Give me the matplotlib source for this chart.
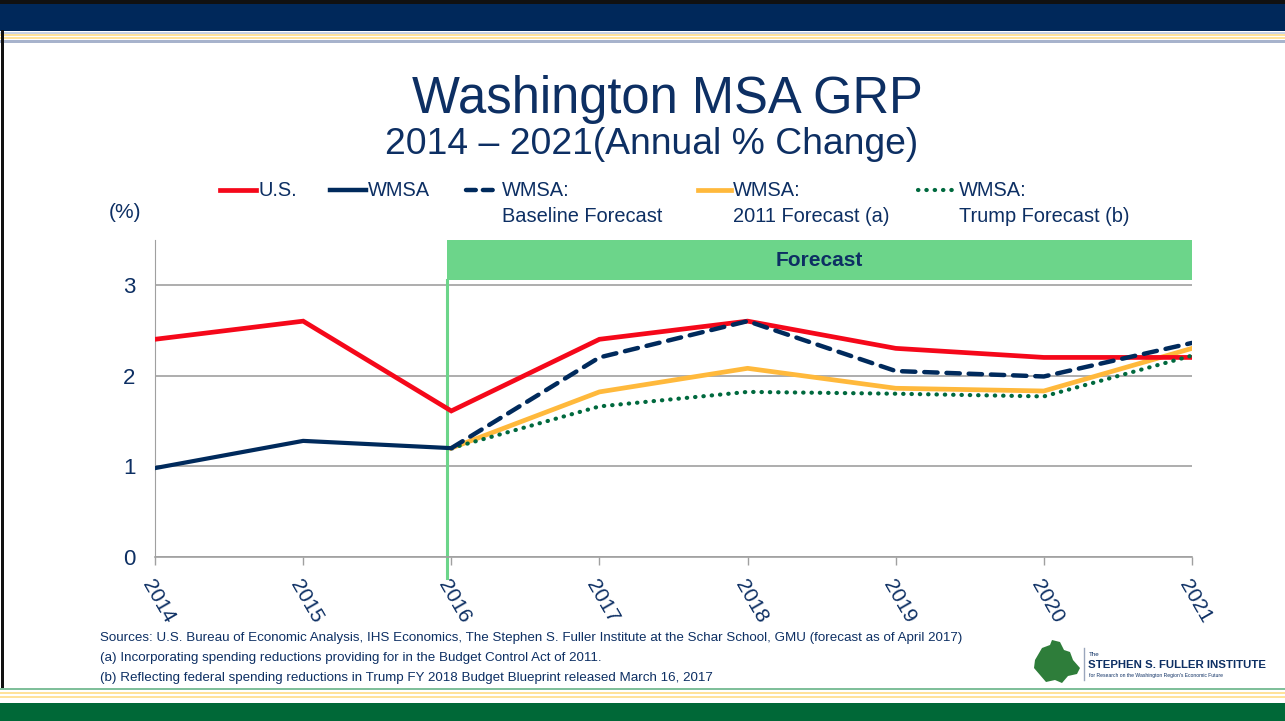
import numpy as np
import matplotlib
matplotlib.use("Agg")
import matplotlib.pyplot as plt
from matplotlib.lines import Line2D
from matplotlib.patches import Rectangle, Polygon

plt.rcParams['font.family'] = ['Liberation Sans Narrow', 'Liberation Sans', 'DejaVu Sans']

# data
years = [2014, 2015, 2016, 2017, 2018, 2019, 2020, 2021]
us = [2.40, 2.60, 1.61, 2.40, 2.60, 2.30, 2.20, 2.20]
wmsa_years = [2014, 2015, 2016]
wmsa = [0.98, 1.28, 1.20]
fc_years = [2016, 2017, 2018, 2019, 2020, 2021]
baseline = [1.20, 2.20, 2.60, 2.05, 1.99, 2.36]
fc_2011 = [1.20, 1.82, 2.08, 1.86, 1.83, 2.30]
trump = [1.20, 1.66, 1.82, 1.80, 1.77, 2.22]

NAVY = '#002A5C'
TXT = '#0D2F63'
RED = '#F5081A'
YEL = '#FFB93C'
DGREEN = '#00693E'
LGREEN = '#6CD58A'

W, H = 1285, 721
fig = plt.figure(figsize=(12.85, 7.21), dpi=100)

def fx(px):
    return px / W

def fy(py):
    return 1 - py / H

def band(y0, y1, color, x0=0, x1=W):
    fig.patches.append(Rectangle((fx(x0), fy(y1)), fx(x1 - x0), (y1 - y0) / H,
                                 transform=fig.transFigure, color=color, lw=0, zorder=0))

# header / footer bands
band(0, 4, '#111111')
band(4, 31, '#00285A')
band(32, 34, '#C9D3E6')
band(34, 36, '#FFE29A')
band(37, 39, '#FFE29A')
band(40, 43, '#A7B3CC')
band(30, 690, '#111111', 1, 4)
band(688, 690, '#7FBF9A')
band(692, 694, '#FFE29A')
band(696, 698, '#FFE29A')
band(703, 721, '#006837')

# titles
fig.text(fx(667), fy(99), 'Washington MSA GRP', ha='center', va='center',
         fontsize=36.5, color=TXT, family=['Liberation Sans', 'DejaVu Sans'])
fig.text(fx(652), fy(144), '2014 \u2013 2021(Annual % Change)', ha='center', va='center',
         fontsize=26.8, color=TXT, family=['Liberation Sans', 'DejaVu Sans'])
fig.text(fx(125), fy(213), '(%)', ha='center', va='center', fontsize=15, color=TXT)

ax = fig.add_axes([fx(155), fy(557), fx(1192 - 155), (557 - 239.5) / H])
ax.set_xlim(2014, 2021)
ax.set_ylim(0, 3.5)
ax.set_yticks([0, 1, 2, 3])
ax.set_xticks(years)
ax.set_xticklabels([str(y) for y in years], rotation=-60, ha='left', va='top',
                   rotation_mode='anchor', fontsize=15, color=TXT)
ax.tick_params(axis='y', length=0, labelsize=16, labelcolor=TXT, pad=14)
ax.tick_params(axis='x', length=6, color='#A0A0A0', width=1, pad=8)
ax.grid(axis='y', color='#A0A0A0', lw=1.2)
ax.set_axisbelow(True)
for s in ['top', 'right']:
    ax.spines[s].set_visible(False)
ax.spines['left'].set_color('#A0A0A0')
ax.spines['bottom'].set_color('#A0A0A0')
ax.spines['bottom'].set_linewidth(1.2)

# forecast band
ax.add_patch(Rectangle((2015.97, 3.05), 2021 - 2015.97, 0.45, color=LGREEN, lw=0,
                       zorder=1, clip_on=False))
ax.text((2015.97 + 2021) / 2, 3.27, 'Forecast', ha='center', va='center', fontsize=15,
        fontweight='bold', color=TXT, family=['Liberation Sans', 'DejaVu Sans'])
ax.plot([2015.97, 2015.97], [-0.23, 3.05], color=LGREEN, lw=2.2, clip_on=False, zorder=2)

ax.plot(years, us, color=RED, lw=3.4, zorder=4, solid_joinstyle='miter')
ax.plot(wmsa_years, wmsa, color=NAVY, lw=3, zorder=4)
ax.plot(fc_years, fc_2011, color=YEL, lw=3.4, zorder=3)
ax.plot(fc_years, baseline, color=NAVY, lw=3.2, ls=(0, (3, 2)), dash_capstyle='round',
        zorder=5)
ax.plot(fc_years, trump, color=DGREEN, lw=3, ls=(0, (0.1, 1.9)), dash_capstyle='round',
        zorder=4)

# legend (drawn manually to match layout)
entries = [
    (220, 256, 258, 'U.S.', dict(color=RED, lw=3.4)),
    (330, 366, 368, 'WMSA', dict(color=NAVY, lw=3.2)),
    (466, 499, 502, 'WMSA:\nBaseline Forecast', dict(color=NAVY, lw=3.2, ls=(0, (2.2, 1.6)),
                                                       dash_capstyle='round')),
    (698, 731, 733, 'WMSA:\n2011 Forecast (a)', dict(color=YEL, lw=3.4)),
    (918, 956, 959, 'WMSA:\nTrump Forecast (b)', dict(color=DGREEN, lw=3, ls=(0, (0.1, 1.9)),
                                                        dash_capstyle='round')),
]
for x0, x1, xt, lab, kw in entries:
    fig.add_artist(Line2D([fx(x0), fx(x1)], [fy(190), fy(190)], transform=fig.transFigure, **kw))
    fig.text(fx(xt), fy(181), lab, ha='left', va='top', fontsize=14.4, color=TXT,
             linespacing=1.5)

# footnotes
notes = [
    'Sources: U.S. Bureau of Economic Analysis, IHS Economics, The Stephen S. Fuller Institute at the Schar School, GMU (forecast as of April 2017)',
    '(a) Incorporating spending reductions providing for in the Budget Control Act of 2011.',
    '(b) Reflecting federal spending reductions in Trump FY 2018 Budget Blueprint released March 16, 2017',
]
for i, n in enumerate(notes):
    fig.text(fx(100), fy(638 + i * 20), n, ha='left', va='center', fontsize=9.6, color=TXT)

# logo
blob = [(1035, 660), (1042, 648), (1050, 645), (1052, 640), (1060, 642), (1064, 650),
        (1070, 652), (1073, 660), (1080, 668), (1077, 674), (1068, 676), (1062, 683),
        (1055, 680), (1046, 682), (1040, 675), (1034, 668)]
fig.patches.append(Polygon([(fx(x), fy(y)) for x, y in blob], closed=True,
                           transform=fig.transFigure, color='#2E7D3A', lw=0))
fig.add_artist(Line2D([fx(1084), fx(1084)], [fy(648), fy(680)], transform=fig.transFigure,
                      color='#9AA6BC', lw=1))
fig.text(fx(1089), fy(654), 'The', fontsize=4.5, color=TXT, ha='left', va='center')
fig.text(fx(1088), fy(665), 'STEPHEN S. FULLER INSTITUTE', fontsize=8.2, color=TXT,
         ha='left', va='center', fontweight='bold')
fig.text(fx(1089), fy(676), "for Research on the Washington Region's Economic Future",
         fontsize=3.6, color=TXT, ha='left', va='center')

fig.savefig('out.png', dpi=100)
